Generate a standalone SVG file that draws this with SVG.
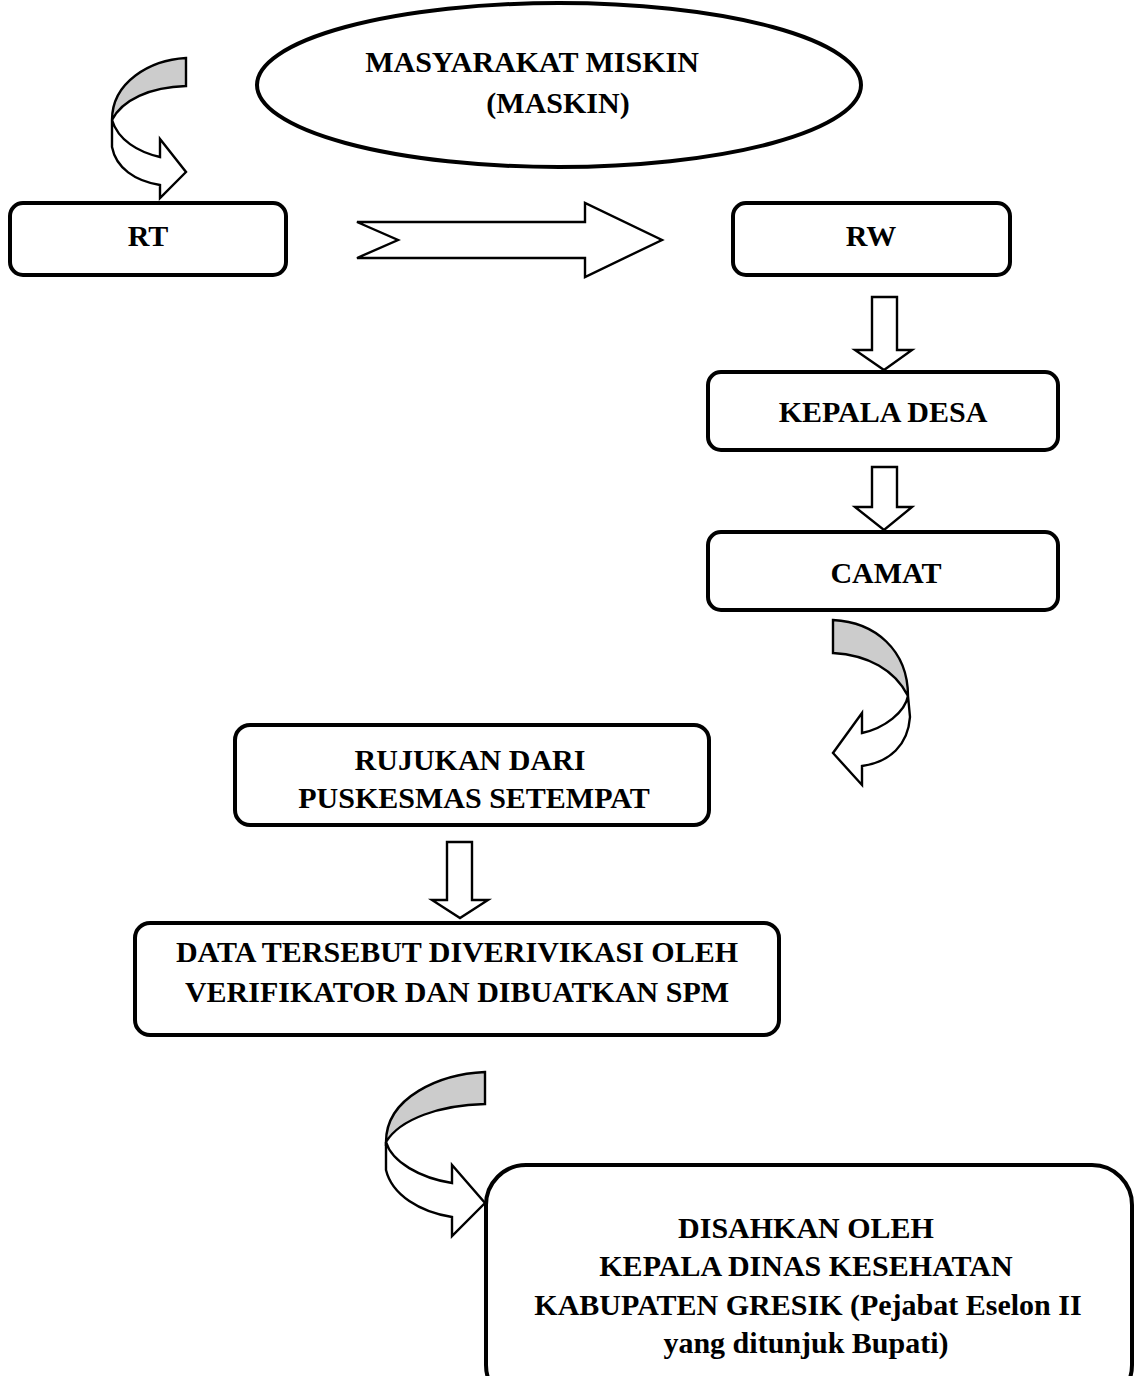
<svg xmlns="http://www.w3.org/2000/svg" width="1135" height="1376" viewBox="0 0 1135 1376">
<style>
.box{fill:#fff;stroke:#000;stroke-width:4}
.arr{fill:#fff;stroke:#000;stroke-width:2.4;stroke-linejoin:miter}
.back{fill:#cccccc;stroke:#000;stroke-width:2.4}
text{font-family:"Liberation Serif","Times New Roman",serif;font-weight:bold;font-size:30px;text-anchor:middle;fill:#000}
</style>
<rect width="1135" height="1376" fill="#fff"/>
<g id="connectors">
<path class="back" d="M186,58 C150,60 112,82 112,120 C122,100 150,87 186,86 Z"/>
<path class="arr" d="M112,120 L112,147 C116,168 135,181 160,185 L160,198 L186,172 L160,139 L160,157 C138,152 118,140 112,120 Z"/>
<path class="arr" d="M357,222 L585,222 L585,203 L662,240 L585,277 L585,258 L357,258 L398,240 Z"/>
<path class="arr" d="M872,297 L897,297 L897,350 L912,350 L884,370 L855,350 L872,350 Z"/>
<path class="arr" d="M872,467 L897,467 L897,507 L912,507 L884,530 L855,507 L872,507 Z"/>
<path class="back" d="M833,620 C875,622 908,650 908,696 C895,670 868,655 833,653 Z"/>
<path class="arr" d="M908,696 L910,717 C908,745 890,762 862,766 L862,785 L833,753 L862,713 L862,733 C885,728 905,712 908,696 Z"/>
<path class="arr" d="M447,842 L472,842 L472,900 L488,900 L460,918 L432,900 L447,900 Z"/>
<path class="back" d="M485,1072 C440,1074 386,1097 386,1142 C400,1119 440,1105 485,1104 Z"/>
<path class="arr" d="M386,1142 L386,1170 C392,1195 420,1212 452,1217 L452,1236 L485,1203 L452,1165 L452,1183 C420,1178 392,1162 386,1142 Z"/>
</g>
<g id="maskin">
<ellipse class="box" cx="559" cy="85" rx="302" ry="82"/>
<text x="532" y="72">MASYARAKAT MISKIN</text>
<text x="558" y="113">(MASKIN)</text>
</g>
<g id="rt">
<rect class="box" x="10" y="203" width="276" height="72" rx="13"/>
<text x="148" y="246">RT</text>
</g>
<g id="rw">
<rect class="box" x="733" y="203" width="277" height="72" rx="13"/>
<text x="871" y="246">RW</text>
</g>
<g id="kepala-desa">
<rect class="box" x="708" y="372" width="350" height="78" rx="13"/>
<text x="883" y="422">KEPALA DESA</text>
</g>
<g id="camat">
<rect class="box" x="708" y="532" width="350" height="78" rx="13"/>
<text x="886" y="583">CAMAT</text>
</g>
<g id="rujukan">
<rect class="box" x="235" y="725" width="474" height="100" rx="15"/>
<text x="470" y="770">RUJUKAN DARI</text>
<text x="474" y="808">PUSKESMAS SETEMPAT</text>
</g>
<g id="data">
<rect class="box" x="135" y="923" width="644" height="112" rx="15"/>
<text x="457" y="962">DATA TERSEBUT DIVERIVIKASI OLEH</text>
<text x="457" y="1002">VERIFIKATOR DAN DIBUATKAN SPM</text>
</g>
<g id="disahkan">
<rect class="box" x="486" y="1165" width="646" height="240" rx="40"/>
<text x="806" y="1238">DISAHKAN OLEH</text>
<text x="806" y="1276">KEPALA DINAS KESEHATAN</text>
<text x="808" y="1315">KABUPATEN GRESIK (Pejabat Eselon II</text>
<text x="806" y="1353">yang ditunjuk Bupati)</text>
</g>
</svg>
